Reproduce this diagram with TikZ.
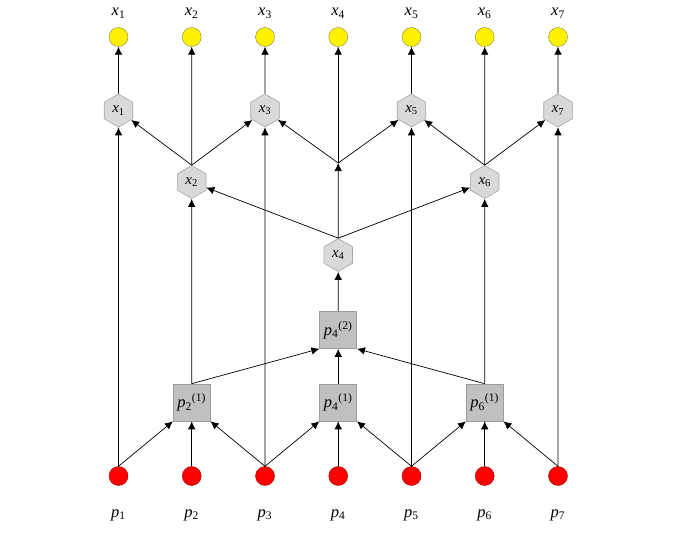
\documentclass[tikz,border=0pt]{standalone}
\usepackage{fontspec}
\setmainfont{Liberation Serif}
\usetikzlibrary{shapes.geometric,arrows.meta}
\definecolor{hexfill}{HTML}{D9D9D9}
\definecolor{hexdraw}{HTML}{A6A6A6}
\definecolor{sqfill}{HTML}{C0C0C0}
\definecolor{sqdraw}{HTML}{9C9C9C}
\begin{document}
\begin{tikzpicture}[x=1pt,y=-1pt,
  ycirc/.style={circle,draw=yellow!45!black,fill=yellow,minimum size=19pt,inner sep=0pt,line width=0.4pt},
  rcirc/.style={circle,draw=red!60!black,fill=red,minimum size=19pt,inner sep=0pt,line width=0.4pt},
  hexn/.style={regular polygon,regular polygon sides=6,shape border rotate=30,minimum size=33pt,inner sep=0pt,draw=hexdraw,fill=hexfill,line width=0.6pt,font=\fontsize{15}{17}\selectfont},
  sqn/.style={rectangle,minimum size=37pt,inner sep=0pt,draw=sqdraw,fill=sqfill,line width=0.6pt,font=\fontsize{16.5}{18}\selectfont},
  lab/.style={inner sep=0pt,font=\fontsize{16.5}{18}\selectfont},
  ar/.style={-{Latex[length=8pt,width=7.5pt]},line width=0.7pt,black}]
\useasboundingbox (0,0) rectangle (695,543);
\foreach \i/\x in {1/118.5,2/191.7,3/265,4/338.2,5/411.5,6/484.7,7/558}{
  \node[ycirc] (y\i) at (\x,37) {};
  \node[lab] (lx\i) at (\x,13) {\textit{x}\textsubscript{\i}};
  \node[rcirc] (r\i) at (\x,476) {};
  \node[lab] (lp\i) at (\x,515) {\textit{p}\textsubscript{\i}};
}
\node[hexn] (h1) at (118.5,110.5) {\textit{x}\textsubscript{1}};
\node[hexn] (h3) at (265,110.5) {\textit{x}\textsubscript{3}};
\node[hexn] (h5) at (411.5,110.5) {\textit{x}\textsubscript{5}};
\node[hexn] (h7) at (558,110.5) {\textit{x}\textsubscript{7}};
\node[hexn] (h2) at (191.7,182) {\textit{x}\textsubscript{2}};
\node[hexn] (h6) at (484.7,182) {\textit{x}\textsubscript{6}};
\node[hexn] (h4) at (338.2,255) {\textit{x}\textsubscript{4}};
\coordinate (j) at (338.2,163);
\node[sqn] (t4) at (338.2,330) {\textit{p}\textsubscript{4}\textsuperscript{(2)}};
\node[sqn] (s2) at (191.7,402.5) {\textit{p}\textsubscript{2}\textsuperscript{(1)}};
\node[sqn] (s4) at (338.2,402.5) {\textit{p}\textsubscript{4}\textsuperscript{(1)}};
\node[sqn] (s6) at (484.7,402.5) {\textit{p}\textsubscript{6}\textsuperscript{(1)}};
% bottom level
\draw[ar] (r1.north) -- (h1.-90);
\draw[ar] (r1.north) -- (s2.south west);
\draw[ar] (r2.north) -- (s2.south);
\draw[ar] (r3.north) -- (s2.south east);
\draw[ar] (r3.north) -- (h3.-90);
\draw[ar] (r3.north) -- (s4.south west);
\draw[ar] (r4.north) -- (s4.south);
\draw[ar] (r5.north) -- (s4.south east);
\draw[ar] (r5.north) -- (h5.-90);
\draw[ar] (r5.north) -- (s6.south west);
\draw[ar] (r6.north) -- (s6.south);
\draw[ar] (r7.north) -- (s6.south east);
\draw[ar] (r7.north) -- (h7.-90);
% squares
\draw[ar] (s2.north) -- (t4.south west);
\draw[ar] (s2.north) -- (h2.-90);
\draw[ar] (s4.north) -- (t4.south);
\draw[ar] (s6.north) -- (t4.south east);
\draw[ar] (s6.north) -- (h6.-90);
\draw[ar] (t4.north) -- (h4.-90);
% hexagons
\draw[ar] (h4.90) -- (h2);
\draw[ar] (h4.90) -- (h6);
\draw[ar] (h4.90) -- (j);
\draw[ar] (j) -- (h3);
\draw[ar] (j) -- (h5);
\draw[ar] (j) -- (y4);
\draw[ar] (h2.90) -- (h1);
\draw[ar] (h2.90) -- (h3);
\draw[ar] (h2.90) -- (y2);
\draw[ar] (h6.90) -- (h5);
\draw[ar] (h6.90) -- (h7);
\draw[ar] (h6.90) -- (y6);
\draw[ar] (h1.90) -- (y1);
\draw[ar] (h3.90) -- (y3);
\draw[ar] (h5.90) -- (y5);
\draw[ar] (h7.90) -- (y7);
\end{tikzpicture}
\end{document}
